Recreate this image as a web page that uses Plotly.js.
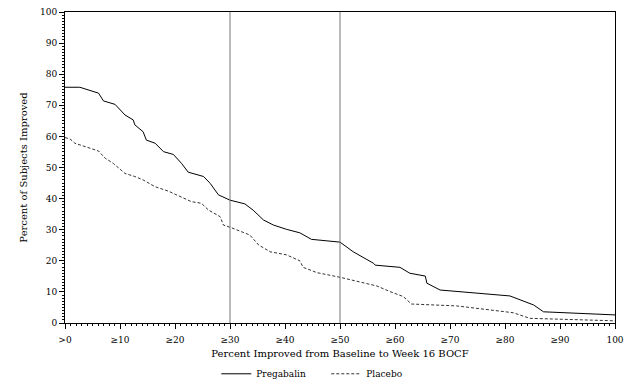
<!DOCTYPE html>
<html>
<head>
<meta charset="utf-8">
<script src="https://cdn.plot.ly/plotly-3.0.1.min.js"></script>
<style>html,body{margin:0;padding:0;background:#fff;}#chart{width:636px;height:391px;}</style>
</head>
<body>
<div id="chart"></div>
<script>
// Percent improved thresholds (x) and percent of subjects improved (y)
const pregabalinX = [0, 2.7, 6.1, 7.0, 9.1, 10.9, 12.4, 12.7, 14.2, 14.8, 16.4, 17.9, 19.7, 21.2, 22.4, 25.2, 26.4, 27.9, 30.0, 32.7, 34.2, 36.1, 37.9, 40.3, 42.7, 44.8, 50.0, 52.4, 56.1, 56.4, 60.9, 62.7, 65.5, 65.8, 68.2, 80.9, 85.2, 87.0, 100];
const pregabalinY = [75.8, 75.8, 73.9, 71.4, 70.3, 66.9, 65.3, 63.7, 61.5, 58.8, 57.8, 55.1, 54.2, 51.3, 48.5, 47.1, 44.9, 41.2, 39.5, 38.3, 36.3, 33.1, 31.5, 30.1, 29.0, 26.9, 26.0, 22.9, 19.2, 18.6, 17.9, 16.0, 15.1, 12.8, 10.6, 8.7, 5.8, 3.6, 2.6];

const placeboX = [0, 0.9, 1.8, 3.9, 6.1, 7.3, 8.8, 10.9, 12.7, 14.2, 16.4, 18.8, 21.2, 23.0, 24.8, 26.1, 28.2, 28.8, 30.3, 33.6, 35.2, 37.3, 40.3, 42.7, 43.3, 45.8, 50.0, 56.7, 59.1, 61.5, 63.0, 71.2, 81.5, 84.5, 100];
const placeboY = [59.6, 59.2, 57.8, 56.7, 55.3, 53.0, 51.3, 48.1, 47.1, 46.0, 43.8, 42.4, 40.6, 39.0, 38.5, 36.3, 34.2, 31.5, 30.6, 28.3, 25.1, 22.9, 21.9, 20.0, 17.9, 16.2, 14.7, 11.9, 10.1, 8.5, 6.1, 5.5, 3.3, 1.5, 0.7];

const xTickVals = [0, 10, 20, 30, 40, 50, 60, 70, 80, 90, 100];
const xTickText = [">0", "≥10", "≥20", "≥30", "≥40", "≥50", "≥60", "≥70", "≥80", "≥90", "100"];
const yTickVals = [0, 10, 20, 30, 40, 50, 60, 70, 80, 90, 100];
const refLines = [30, 50];

const fam = "DejaVu Serif, serif";

const traces = [
  {x: pregabalinX, y: pregabalinY, name: "Pregabalin", mode: "lines",
   line: {color: "#000", width: 1, dash: "solid"}},
  {x: placeboX, y: placeboY, name: "Placebo", mode: "lines",
   line: {color: "#333", width: 1, dash: "3px,2px"}}
];

const layout = {
  width: 636, height: 391,
  margin: {l: 65, r: 21, t: 12, b: 68, autoexpand: false},
  paper_bgcolor: "#fff", plot_bgcolor: "#fff",
  font: {family: fam, size: 9, color: "#000"},
  showlegend: true,
  legend: {orientation: "h", x: 0.513, xanchor: "center", xref: "container",
           y: 0.044, yanchor: "middle", yref: "container",
           font: {family: fam, size: 9}, itemwidth: 30, entrywidth: 65, tracegroupgap: 0},
  xaxis: {
    range: [0, 100], tickvals: xTickVals, ticktext: xTickText,
    showgrid: false, zeroline: false, showline: true, linecolor: "#000", linewidth: 1,
    mirror: true, ticks: "outside", ticklen: 5, tickcolor: "#000", ticklabelstandoff: 3,
    minor: {dtick: 1, ticks: "outside", ticklen: 2, tickcolor: "#000", showgrid: false},
    tickfont: {family: fam, size: 9},
    title: {text: "Percent Improved from Baseline to Week 16 BOCF", standoff: 10,
            font: {family: fam, size: 10}}
  },
  yaxis: {
    range: [0, 100], tickvals: yTickVals,
    showgrid: false, zeroline: false, showline: true, linecolor: "#000", linewidth: 1,
    mirror: true, ticks: "outside", ticklen: 5, tickcolor: "#000",
    minor: {dtick: 1, ticks: "outside", ticklen: 2, tickcolor: "#000", showgrid: false},
    tickfont: {family: fam, size: 9},
    title: {text: "Percent of Subjects Improved", standoff: 10,
            font: {family: fam, size: 10}}
  },
  shapes: refLines.map(v => ({type: "line", xref: "x", yref: "paper", x0: v, x1: v, y0: 0, y1: 1,
                              line: {color: "#777", width: 1}}))
};

Plotly.newPlot("chart", traces, layout, {displayModeBar: false, staticPlot: true});
</script>
</body>
</html>
